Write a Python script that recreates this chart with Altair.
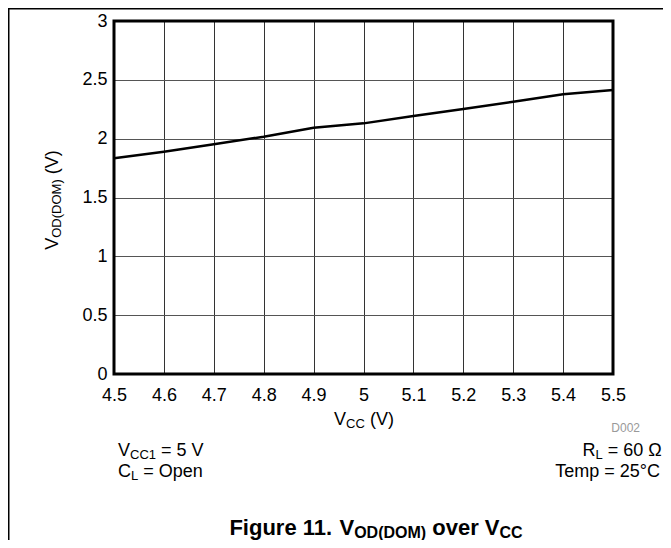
import altair as alt
import pandas as pd

# ---- data ----
vcc = [4.5, 4.6, 4.7, 4.8, 4.9, 5.0, 5.1, 5.2, 5.3, 5.4, 5.5]
vod = [1.833, 1.889, 1.952, 2.017, 2.093, 2.130, 2.193, 2.252, 2.314, 2.377, 2.414]
x_ticks = [4.5, 4.6, 4.7, 4.8, 4.9, 5.0, 5.1, 5.2, 5.3, 5.4, 5.5]
y_ticks = [0, 0.5, 1, 1.5, 2, 2.5, 3]

W, H = 499, 353
PAD = {"left": 106, "top": 13, "right": 50, "bottom": 166}
FONT = "Liberation Sans, Arial, Helvetica, sans-serif"

df = pd.DataFrame({"vcc": vcc, "vod": vod})

REG = {' ': 278, '(': 333, ')': 333, '.': 278, '=': 584, '°': 400, 'Ω': 768,
       'C': 722, 'D': 722, 'L': 556, 'M': 833, 'O': 778, 'R': 722, 'T': 611,
       'V': 667, 'e': 556, 'm': 833, 'n': 556, 'p': 556, 'F': 611, 'i': 222,
       'g': 556, 'u': 556, 'r': 333, 'o': 556, 'v': 500}
BOLD = {' ': 278, '(': 333, ')': 333, '.': 278, 'C': 722, 'D': 722, 'F': 611,
        'M': 833, 'O': 778, 'V': 667, 'e': 556, 'g': 611, 'i': 278, 'o': 611,
        'r': 389, 'u': 611, 'v': 556}


def width(s, size, bold):
    tbl = BOLD if bold else REG
    return sum(tbl.get(c, 556) for c in s) * size / 1000.0


one = alt.Data(values=[{"k": 0}])


def run(segs, x0, y0, align="left", bold=False, angle=0, color="black"):
    """segs: list of (text, size, dy)."""
    total = sum(width(t, s, bold) for t, s, _ in segs)
    if align == "left":
        start = 0.0
    elif align == "right":
        start = -total
    else:
        start = -total / 2
    layers = []
    cur = start
    for t, s, dy in segs:
        lead = t[:len(t) - len(t.lstrip(' '))]
        shown = t.strip(' ')
        pos = cur + width(lead, s, bold)
        kw = dict(align="left", baseline="alphabetic", fontSize=s, font=FONT,
                  color=color, fontWeight="bold" if bold else "normal")
        if angle:
            m = alt.Chart(one).mark_text(angle=angle, **kw).encode(
                x=alt.value(x0 + dy), y=alt.value(y0 - pos), text=alt.value(shown))
        else:
            m = alt.Chart(one).mark_text(**kw).encode(
                x=alt.value(x0 + pos), y=alt.value(y0 + dy), text=alt.value(shown))
        layers.append(m)
        cur += width(t, s, bold)
    return layers


xs = alt.Scale(domain=[4.5, 5.5], nice=False, zero=False)
ys = alt.Scale(domain=[0, 3], nice=False, zero=False)

base = alt.Chart(df).mark_line(color="black", strokeWidth=2.5).encode(
    x=alt.X("vcc:Q", scale=xs,
            axis=alt.Axis(values=x_ticks, title="", domain=False, ticks=False,
                          labelFontSize=18, labelColor="black", labelFont=FONT,
                          labelPadding=12, gridColor="#333333", gridWidth=1,
                          gridOpacity=1, format=".1~f", labelFlush=False)),
    y=alt.Y("vod:Q", scale=ys,
            axis=alt.Axis(values=y_ticks, title="", domain=False, ticks=False,
                          labelFontSize=18, labelColor="black", labelFont=FONT,
                          labelPadding=7, gridColor="#555555", gridWidth=1,
                          gridOpacity=1, format="~g", labelFlush=False)),
)

border = alt.Chart(one).mark_rect(fillOpacity=0, stroke="black", strokeWidth=3).encode(
    x=alt.value(0), x2=alt.value(W), y=alt.value(0), y2=alt.value(H))

frame_left = alt.Chart(one).mark_rule(color="black", strokeWidth=1.5).encode(
    x=alt.value(-PAD["left"] + 0.75), y=alt.value(-PAD["top"]),
    y2=alt.value(H + PAD["bottom"]))
frame_top = alt.Chart(one).mark_rule(color="black", strokeWidth=1.5).encode(
    x=alt.value(-PAD["left"]), x2=alt.value(W + PAD["right"]),
    y=alt.value(-PAD["top"] + 0.75))

M, S = 18, 13
texts = []
texts += run([("V", M, 0), ("CC", S, 3), (" (V)", M, 0)], 250, 404, "center")
texts += run([("V", M, 0), ("OD(DOM)", S, 3), (" (V)", M, 0)], -56, 179,
             "center", angle=270)
texts += run([("V", M, 0), ("CC1", S, 3), (" = 5 V", M, 0)], 4, 435, "left")
texts += run([("C", M, 0), ("L", S, 3), (" = Open", M, 0)], 4, 456, "left")
texts += run([("R", M, 0), ("L", S, 3), (" = 60 Ω", M, 0)], 548, 435, "right")
texts += run([("Temp = 25°C", M, 0)], 548, 456, "right")
texts += run([("D002", 12, 0)], 526, 411, "right", color="#999999")
texts += run([("Figure 11. ", 22, 0), ("V", 22, 0), ("OD(DOM)", 16, 3),
              (" over ", 22, 0), ("V", 22, 0), ("CC", 16, 3)], 262, 514,
             "center", bold=True)

chart = alt.layer(base, border, frame_left, frame_top, *texts).properties(
    width=W, height=H,
    autosize=alt.AutoSizeParams(type="none"),
    padding=PAD,
).configure_view(stroke=None).configure(background="white")

chart.save("out.html", embed_options={"renderer": "svg", "actions": False})
